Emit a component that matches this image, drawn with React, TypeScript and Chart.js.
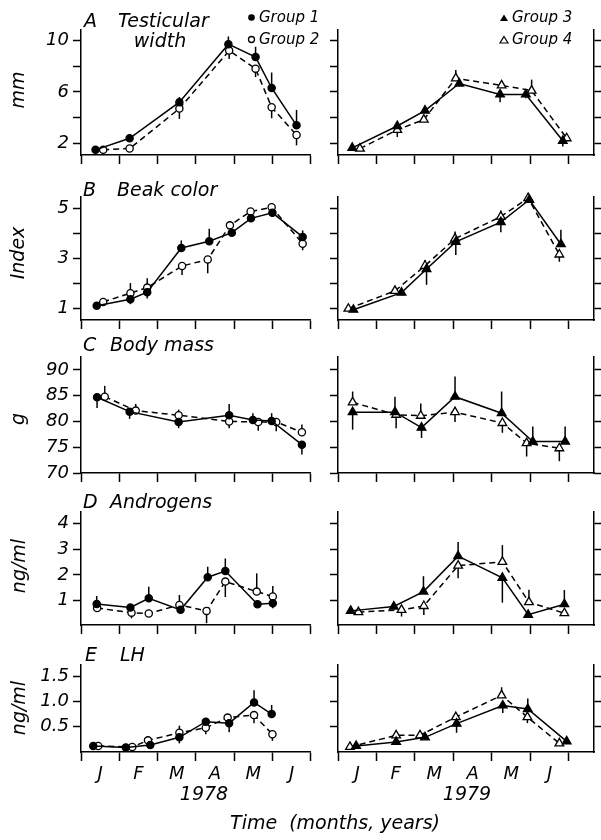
import React, { useEffect, useRef } from "react";
import { Chart, registerables } from "chart.js";
Chart.register(...registerables);

const FAMILY = "'DejaVu Sans', 'Liberation Sans', sans-serif";
const MONTHS = ["J", "F", "M", "A", "M", "J"];

// ---------- Panel A: testicular width (mm) ----------
const A_G1_X = [0.38, 1.27, 2.57, 3.85, 4.56, 4.98, 5.63];
const A_G1_Y = [1.5, 2.4, 5.2, 9.7, 8.7, 6.3, 3.4];
const A_G1_E = [0, 0, 0.4, 0.6, 0.8, 1.2, 1.2];
const A_G2_X = [0.58, 1.27, 2.57, 3.87, 4.56, 4.98, 5.63];
const A_G2_Y = [1.5, 1.6, 4.7, 9.2, 7.8, 4.8, 2.65];
const A_G2_E = [0, 0, -0.8, -0.65, -0.65, -0.85, -0.8];
const A_G3_X = [0.37, 1.54, 2.26, 3.15, 4.21, 4.88, 5.84];
const A_G3_Y = [1.65, 3.35, 4.55, 6.65, 5.8, 5.8, 2.2];
const A_G3_E = [0, 0, 0, 0, -0.6, -0.3, -0.45];
const A_G4_X = [0.57, 1.54, 2.23, 3.06, 4.25, 5.03, 5.94];
const A_G4_Y = [1.6, 3.05, 3.85, 7.05, 6.5, 6.1, 2.4];
const A_G4_E = [0, -0.55, 0, 0.65, 0, 0.85, 0];
const A_TICKS = [2, 4, 6, 8, 10];
const A_LABELS = ["2", "", "6", "", "10"];

// ---------- Panel B: beak color (index) ----------
const B_G1_X = [0.41, 1.29, 1.73, 2.62, 3.35, 3.94, 4.44, 5.0, 5.79];
const B_G1_Y = [1.12, 1.38, 1.66, 3.42, 3.69, 4.03, 4.6, 4.82, 3.86];
const B_G1_E = [0, -0.2, -0.25, 0.3, 0.5, 0, 0, 0, 0.26];
const B_G2_X = [0.58, 1.29, 1.73, 2.64, 3.31, 3.89, 4.43, 4.98, 5.79];
const B_G2_Y = [1.27, 1.62, 1.84, 2.7, 2.96, 4.32, 4.87, 5.04, 3.59];
const B_G2_E = [0, 0.4, 0.37, -0.36, -0.55, 0, 0, 0, -0.26];
const B_G3_X = [0.4, 1.65, 2.3, 3.06, 4.23, 4.97, 5.79];
const B_G3_Y = [0.96, 1.64, 2.58, 3.66, 4.45, 5.34, 3.57];
const B_G3_E = [0, 0, -0.63, -0.52, -0.4, 0, 0.58];
const B_G4_X = [0.27, 1.48, 2.26, 3.04, 4.23, 4.94, 5.75];
const B_G4_Y = [1.0, 1.71, 2.71, 3.79, 4.67, 5.41, 3.16];
const B_G4_E = [0, 0, 0.23, 0.29, 0.24, 0.2, -0.29];
const B_TICKS = [1, 2, 3, 4, 5];
const B_LABELS = ["1", "", "3", "", "5"];

// ---------- Panel C: body mass (g) ----------
const C_G1_X = [0.42, 1.27, 2.55, 3.87, 4.49, 4.98, 5.77];
const C_G1_Y = [84.7, 81.9, 79.9, 81.2, 80.3, 80.1, 75.5];
const C_G1_E = [-2.1, -1.4, -1.2, 2.2, 1.3, 1.5, -1.9];
const C_G2_X = [0.62, 1.43, 2.55, 3.87, 4.63, 5.1, 5.77];
const C_G2_Y = [84.8, 82.1, 81.2, 80.0, 79.9, 79.9, 77.9];
const C_G2_E = [2.1, 1.3, 1.1, -1.3, -1.7, -1.8, 1.5];
const C_G3_X = [0.38, 1.48, 2.17, 3.04, 4.25, 5.06, 5.9];
const C_G3_Y = [81.8, 81.8, 78.8, 84.8, 81.6, 76.1, 76.1];
const C_G3_E = [-3.4, 3.0, -2.0, 3.9, 4.2, 2.9, 2.9];
const C_G4_X = [0.38, 1.51, 2.15, 3.04, 4.27, 4.9, 5.75];
const C_G4_Y = [83.7, 81.3, 81.1, 81.8, 79.7, 75.8, 74.8];
const C_G4_E = [2.1, -2.6, 2.4, -1.9, -1.9, -2.6, -2.5];
const C_TICKS = [70, 75, 80, 85, 90];
const C_LABELS = ["70", "75", "80", "85", "90"];

// ---------- Panel D: androgens (ng/ml) ----------
const D_G1_X = [0.41, 1.29, 1.77, 2.6, 3.31, 3.77, 4.61, 5.01];
const D_G1_Y = [0.87, 0.73, 1.09, 0.64, 1.91, 2.15, 0.86, 0.9];
const D_G1_E = [0.31, 0, 0.45, 0, 0.41, 0.49, 0, -0.2];
const D_G2_X = [0.42, 1.32, 1.77, 2.57, 3.28, 3.77, 4.59, 5.01];
const D_G2_Y = [0.71, 0.53, 0.5, 0.83, 0.6, 1.74, 1.35, 1.16];
const D_G2_E = [0, -0.22, 0, 0.39, -0.48, -0.6, 0.71, 0.41];
const D_G3_X = [0.33, 1.45, 2.22, 3.12, 4.27, 4.94, 5.88];
const D_G3_Y = [0.6, 0.77, 1.35, 2.73, 1.89, 0.45, 0.86];
const D_G3_E = [0, 0, 0.6, 0.55, -0.97, 0, 0.55];
const D_G4_X = [0.53, 1.65, 2.23, 3.12, 4.27, 4.96, 5.88];
const D_G4_Y = [0.55, 0.64, 0.79, 2.36, 2.51, 0.94, 0.51];
const D_G4_E = [0, -0.26, -0.35, -0.49, 0.65, 0.48, 0];
const D_TICKS = [1, 2, 3, 4];
const D_LABELS = ["1", "2", "3", "4"];

// ---------- Panel E: LH (ng/ml) ----------
const E_G1_X = [0.32, 1.17, 1.81, 2.57, 3.26, 3.87, 4.52, 4.98];
const E_G1_Y = [0.12, 0.09, 0.14, 0.29, 0.6, 0.57, 0.98, 0.75];
const E_G1_E = [0, 0, 0, -0.12, 0, -0.18, 0.24, 0.18];
const E_G2_X = [0.45, 1.34, 1.75, 2.57, 3.26, 3.83, 4.52, 5.0];
const E_G2_Y = [0.12, 0.1, 0.23, 0.38, 0.48, 0.68, 0.73, 0.35];
const E_G2_E = [0, 0, 0, 0.14, -0.13, 0, -0.16, -0.13];
const E_G3_X = [0.47, 1.51, 2.26, 3.08, 4.28, 4.93, 5.94];
const E_G3_Y = [0.12, 0.2, 0.29, 0.56, 0.92, 0.85, 0.21];
const E_G3_E = [0, 0, 0, -0.18, -0.15, 0.21, 0];
const E_G4_X = [0.31, 1.51, 2.13, 3.06, 4.25, 4.92, 5.75];
const E_G4_Y = [0.1, 0.33, 0.33, 0.69, 1.12, 0.69, 0.17];
const E_G4_E = [0, 0, 0, 0, 0.16, -0.12, 0];
const E_TICKS = [0.5, 1.0, 1.5];
const E_LABELS = ["0.5", "1.0", "1.5"];

type Series = { x: number[]; y: number[]; e: number[]; kind: number };
const S = (x: number[], y: number[], e: number[], kind: number): Series => ({ x, y, e, kind });

const errorBars = {
  id: "errorBars",
  beforeDatasetsDraw(chart: any) {
    const ctx = chart.ctx;
    const xs = chart.scales.x;
    const ys = chart.scales.y;
    chart.data.datasets.forEach((ds: any) => {
      const errs: number[] = ds.errors;
      if (!errs) return;
      ctx.save();
      ctx.strokeStyle = "#000";
      ctx.lineWidth = 1.5;
      ctx.setLineDash([]);
      ds.data.forEach((p: any, i: number) => {
        const e = errs[i];
        if (!e) return;
        const px = xs.getPixelForValue(p.x);
        ctx.beginPath();
        ctx.moveTo(px, ys.getPixelForValue(p.y));
        ctx.lineTo(px, ys.getPixelForValue(p.y + e));
        ctx.stroke();
      });
      ctx.restore();
    });
  },
};

type PanelProps = {
  side: "left" | "right";
  top: number;
  bottom: number;
  yMin: number;
  yMax: number;
  ticks: number[];
  labels: string[];
  series: Series[];
  months: boolean;
};

function Panel(p: PanelProps) {
  const ref = useRef<HTMLCanvasElement>(null);
  const isLeft = p.side === "left";
  const canvasLeft = isLeft ? 0 : 320;
  const width = isLeft ? 316 : 281;
  const padTop = 12;
  const xH = p.months ? 40 : 12;
  const height = p.bottom - p.top + padTop + xH;

  useEffect(() => {
    if (!ref.current) return;
    const xMax = isLeft ? 6 : 6.65;
    const xTicks: number[] = [];
    for (let v = 0; v <= 6; v += p.months ? 0.5 : 1) xTicks.push(v);
    const font = { family: FAMILY, size: 18, style: "italic" as const };
    const border = { display: true, color: "#000", width: 1.5 };
    const datasets = p.series.map((s) => {
      const open = s.kind % 2 === 0;
      const tri = s.kind >= 3;
      return {
        data: s.x.map((x, i) => ({ x, y: s.y[i] })),
        errors: s.e,
        showLine: true,
        borderColor: "#000",
        borderWidth: 1.5,
        borderDash: open ? [6, 4] : [],
        pointStyle: tri ? "triangle" : "circle",
        pointRadius: tri ? 5 : 3.6,
        pointBackgroundColor: open ? "#fff" : "#000",
        pointBorderColor: "#000",
        pointBorderWidth: 1.3,
        tension: 0,
        clip: false,
      };
    });
    const yAxis = (pos: "left" | "right", w: number, showLabels: boolean) => ({
      type: "linear",
      position: pos,
      min: p.yMin,
      max: p.yMax,
      afterBuildTicks: (sc: any) => {
        sc.ticks = p.ticks.map((v) => ({ value: v }));
      },
      afterFit: (sc: any) => {
        sc.width = w;
        sc.paddingTop = 0;
        sc.paddingBottom = 0;
      },
      border,
      grid: { drawOnChartArea: false, drawTicks: true, tickLength: 8, tickWidth: 1.5, tickColor: "#000" },
      ticks: {
        autoSkip: false,
        padding: 4,
        color: "#000",
        font,
        callback: (v: number) => (showLabels ? p.labels[p.ticks.indexOf(v)] ?? "" : ""),
      },
    });
    const scales: any = {
      x: {
        type: "linear",
        position: "bottom",
        min: 0,
        max: xMax,
        afterBuildTicks: (sc: any) => {
          sc.ticks = xTicks.map((v) => ({ value: v }));
        },
        afterFit: (sc: any) => {
          sc.height = xH;
          sc.paddingLeft = 0;
          sc.paddingRight = 0;
        },
        border,
        grid: {
          drawOnChartArea: false,
          drawTicks: true,
          tickLength: 9,
          tickWidth: 1.5,
          tickColor: (ctx: any) =>
            ctx.tick && Number.isInteger(ctx.tick.value) ? "#000" : "rgba(0,0,0,0)",
        },
        ticks: {
          autoSkip: false,
          maxRotation: 0,
          minRotation: 0,
          padding: 3,
          color: "#000",
          font,
          callback: (v: number) => (p.months && !Number.isInteger(v) ? MONTHS[Math.floor(v)] : ""),
        },
      },
      y: yAxis("left", isLeft ? 81 : 18, isLeft),
    };
    if (!isLeft) scales.y2 = yAxis("right", 7, false);

    const chart = new Chart(ref.current, {
      type: "scatter",
      data: { datasets: datasets as any },
      options: {
        animation: false,
        responsive: false,
        devicePixelRatio: 1,
        events: [],
        layout: { padding: { top: padTop, left: 0, right: isLeft ? 4 : 0, bottom: 0 } },
        plugins: { legend: { display: false }, tooltip: { enabled: false } },
        scales,
      } as any,
      plugins: [errorBars],
    });
    return () => chart.destroy();
  }, []);

  return (
    <canvas
      ref={ref}
      width={width}
      height={height}
      style={{ position: "absolute", left: canvasLeft, top: p.top - padTop, width, height }}
    />
  );
}

function Txt(props: { x: number; y: number; size: number; align?: "left" | "center"; children: string }) {
  const { x, y, size, align = "left" } = props;
  return (
    <div
      style={{
        position: "absolute",
        left: x,
        top: y - 0.846 * size,
        fontFamily: FAMILY,
        fontStyle: "italic",
        fontSize: size,
        lineHeight: `${size}px`,
        whiteSpace: "pre",
        color: "#000",
        transform: align === "center" ? "translateX(-50%)" : undefined,
      }}
    >
      {props.children}
    </div>
  );
}

function VTxt(props: { x: number; y: number; size: number; children: string }) {
  return (
    <div
      style={{
        position: "absolute",
        left: props.x,
        top: props.y,
        fontFamily: FAMILY,
        fontStyle: "italic",
        fontSize: props.size,
        lineHeight: `${props.size}px`,
        whiteSpace: "pre",
        color: "#000",
        transform: "translate(-50%, -50%) rotate(-90deg)",
      }}
    >
      {props.children}
    </div>
  );
}

const ROWS = [
  { top: 30, bottom: 155, yMin: 1.1, yMax: 10.8, ticks: A_TICKS, labels: A_LABELS,
    left: [S(A_G1_X, A_G1_Y, A_G1_E, 1), S(A_G2_X, A_G2_Y, A_G2_E, 2)],
    right: [S(A_G3_X, A_G3_Y, A_G3_E, 3), S(A_G4_X, A_G4_Y, A_G4_E, 4)] },
  { top: 197, bottom: 320, yMin: 0.55, yMax: 5.45, ticks: B_TICKS, labels: B_LABELS,
    left: [S(B_G1_X, B_G1_Y, B_G1_E, 1), S(B_G2_X, B_G2_Y, B_G2_E, 2)],
    right: [S(B_G3_X, B_G3_Y, B_G3_E, 3), S(B_G4_X, B_G4_Y, B_G4_E, 4)] },
  { top: 357, bottom: 473, yMin: 70, yMax: 92.5, ticks: C_TICKS, labels: C_LABELS,
    left: [S(C_G1_X, C_G1_Y, C_G1_E, 1), S(C_G2_X, C_G2_Y, C_G2_E, 2)],
    right: [S(C_G3_X, C_G3_Y, C_G3_E, 3), S(C_G4_X, C_G4_Y, C_G4_E, 4)] },
  { top: 512, bottom: 625, yMin: 0.05, yMax: 4.45, ticks: D_TICKS, labels: D_LABELS,
    left: [S(D_G1_X, D_G1_Y, D_G1_E, 1), S(D_G2_X, D_G2_Y, D_G2_E, 2)],
    right: [S(D_G3_X, D_G3_Y, D_G3_E, 3), S(D_G4_X, D_G4_Y, D_G4_E, 4)] },
  { top: 665, bottom: 752, yMin: 0, yMax: 1.72, ticks: E_TICKS, labels: E_LABELS,
    left: [S(E_G1_X, E_G1_Y, E_G1_E, 1), S(E_G2_X, E_G2_Y, E_G2_E, 2)],
    right: [S(E_G3_X, E_G3_Y, E_G3_E, 3), S(E_G4_X, E_G4_Y, E_G4_E, 4)] },
];

export default function App() {
  return (
    <div style={{ position: "absolute", left: 0, top: 0, width: 601, height: 840, background: "#fff", overflow: "hidden" }}>
      {ROWS.map((r, i) => (
        <React.Fragment key={i}>
          <Panel side="left" top={r.top} bottom={r.bottom} yMin={r.yMin} yMax={r.yMax}
            ticks={r.ticks} labels={r.labels} series={r.left} months={i === ROWS.length - 1} />
          <Panel side="right" top={r.top} bottom={r.bottom} yMin={r.yMin} yMax={r.yMax}
            ticks={r.ticks} labels={r.labels} series={r.right} months={i === ROWS.length - 1} />
        </React.Fragment>
      ))}

      {/* panel titles */}
      <Txt x={84} y={27} size={19}>A</Txt>
      <Txt x={118} y={27} size={19}>Testicular</Txt>
      <Txt x={160} y={47} size={19} align="center">width</Txt>
      <Txt x={83} y={196.5} size={19}>B</Txt>
      <Txt x={117} y={196.5} size={19}>Beak color</Txt>
      <Txt x={83} y={351.5} size={19}>C</Txt>
      <Txt x={110} y={351.5} size={19}>Body mass</Txt>
      <Txt x={83} y={508} size={19}>D</Txt>
      <Txt x={110} y={508} size={19}>Androgens</Txt>
      <Txt x={85} y={661.5} size={19}>E</Txt>
      <Txt x={120} y={661.5} size={19}>LH</Txt>

      {/* legends */}
      <svg width={601} height={60} style={{ position: "absolute", left: 0, top: 0 }}>
        <circle cx={251.5} cy={17.5} r={3.3} fill="#000" />
        <circle cx={251.5} cy={39.5} r={3} fill="#fff" stroke="#000" strokeWidth={1.3} />
        <polygon points="504,14.5 508,21 500,21" fill="#000" />
        <polygon points="504,36.5 508,43 500,43" fill="#fff" stroke="#000" strokeWidth={1.2} />
      </svg>
      <Txt x={259} y={23} size={15}>Group 1</Txt>
      <Txt x={259} y={45} size={15}>Group 2</Txt>
      <Txt x={512} y={23} size={15}>Group 3</Txt>
      <Txt x={512} y={45} size={15}>Group 4</Txt>

      {/* y-axis titles */}
      <VTxt x={17} y={90} size={19}>mm</VTxt>
      <VTxt x={17} y={253} size={19}>Index</VTxt>
      <VTxt x={17} y={419} size={19}>g</VTxt>
      <VTxt x={18} y={566} size={19}>ng/ml</VTxt>
      <VTxt x={18} y={708} size={19}>ng/ml</VTxt>

      {/* x-axis titles */}
      <Txt x={204} y={800} size={19} align="center">1978</Txt>
      <Txt x={467} y={800} size={19} align="center">1979</Txt>
      <Txt x={335} y={829} size={19} align="center">Time  (months, years)</Txt>
    </div>
  );
}
